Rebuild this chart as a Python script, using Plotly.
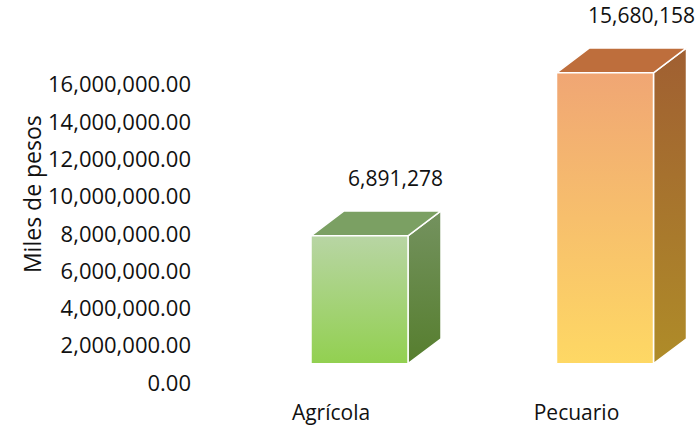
import plotly.graph_objects as go

# ---- data ----
categories = ["Agrícola", "Pecuario"]
values = [6891278, 15680158]
y_tick_values = [0, 2000000, 4000000, 6000000, 8000000, 10000000, 12000000, 14000000, 16000000]
y_title = "Miles de pesos"

# ---- styles ----
front_top = ["#B8D5A4", "#F0A674"]
front_bottom = ["#92D050", "#FED864"]
top_color = ["#7BA063", "#BE6E3C"]
side_top = ["#74925F", "#A05F32"]
side_bottom = ["#567E2E", "#AF8C28"]
FONT = "Open Sans"
TXT = "#111111"

# ---- geometry (pixels) ----
W, H = 698, 426
ML, MR, MT, MB = 192, 0, 20, 26
PX_PER_CAT = 245.5
LABEL0_PX = 331.0
AX_ZERO_PX, AX_SCALE = 385.0, 18.75 / 1e6      # tick axis: px per unit
BAR_ZERO_PX, BAR_SCALE = 365.5, 18.65 / 1e6    # bar axis
BAR_OFFSET = 28.5 / PX_PER_CAT                 # front face centre vs label
HALF_W = 48.5 / PX_PER_CAT
DX = 33.0 / PX_PER_CAT
DY = 25.0 / BAR_SCALE

x_range = [(ML - LABEL0_PX) / PX_PER_CAT, (W - MR - LABEL0_PX) / PX_PER_CAT]
y_range = [-(H - MB - AX_ZERO_PX) / AX_SCALE, (AX_ZERO_PX - MT) / AX_SCALE]
y2_range = [-(H - MB - BAR_ZERO_PX) / BAR_SCALE, (BAR_ZERO_PX - MT) / BAR_SCALE]

fig = go.Figure()

# invisible trace to keep the primary y axis alive
fig.add_trace(go.Scatter(x=[0, 1], y=[0, 0], mode="markers",
                         marker=dict(opacity=0), hoverinfo="skip",
                         showlegend=False, yaxis="y"))

for i, (cat, v) in enumerate(zip(categories, values)):
    xl = i + BAR_OFFSET - HALF_W
    xr = i + BAR_OFFSET + HALF_W
    # side face
    fig.add_trace(go.Scatter(
        x=[xr, xr + DX, xr + DX, xr, xr],
        y=[0, DY, v + DY, v, 0],
        fill="toself", mode="lines", line=dict(color="white", width=1.5),
        fillgradient=dict(type="vertical",
                          colorscale=[[0, side_bottom[i]], [1, side_top[i]]]),
        hoverinfo="skip", showlegend=False, yaxis="y2"))
    # top face
    fig.add_trace(go.Scatter(
        x=[xl, xr, xr + DX, xl + DX, xl],
        y=[v, v, v + DY, v + DY, v],
        fill="toself", mode="lines", line=dict(color="white", width=1.5),
        fillcolor=top_color[i],
        hoverinfo="skip", showlegend=False, yaxis="y2"))
    # front face
    fig.add_trace(go.Scatter(
        x=[xl, xr, xr, xl, xl],
        y=[0, 0, v, v, 0],
        fill="toself", mode="lines", line=dict(color="white", width=1.5),
        fillgradient=dict(type="vertical",
                          colorscale=[[0, front_bottom[i]], [1, front_top[i]]]),
        hoverinfo="skip", showlegend=False, yaxis="y2"))
    # value label
    fig.add_annotation(x=i + BAR_OFFSET + DX, y=v + DY, xref="x", yref="y2",
                       text=f"{v:,}", showarrow=False, yanchor="bottom",
                       xshift=3, yshift=17,
                       font=dict(family=FONT, size=21, color=TXT))

# y axis title
fig.add_annotation(xref="paper", yref="paper",
                   x=(32 - ML) / (W - ML - MR), y=(H - MB - 195) / (H - MT - MB),
                   text=y_title, textangle=-90, showarrow=False,
                   xanchor="center", yanchor="middle",
                   font=dict(family=FONT, size=23, color=TXT))

fig.update_layout(
    width=W, height=H, autosize=False,
    margin=dict(l=ML, r=MR, t=MT, b=MB),
    paper_bgcolor="white", plot_bgcolor="white",
    showlegend=False,
    xaxis=dict(range=x_range, tickvals=[0, 1], ticktext=categories,
               showgrid=False, zeroline=False, showline=False, ticks="",
               tickfont=dict(family=FONT, size=21, color=TXT), fixedrange=True),
    yaxis=dict(range=y_range, tickvals=y_tick_values, tickformat=",.2f",
               showgrid=False, zeroline=False, showline=False, ticks="",
               tickfont=dict(family=FONT, size=22, color=TXT),
               fixedrange=True),
    yaxis2=dict(range=y2_range, overlaying="y", visible=False, fixedrange=True),
)

fig.write_html("out.html", config={"displayModeBar": False},
               post_script="document.body.style.margin='0';")
